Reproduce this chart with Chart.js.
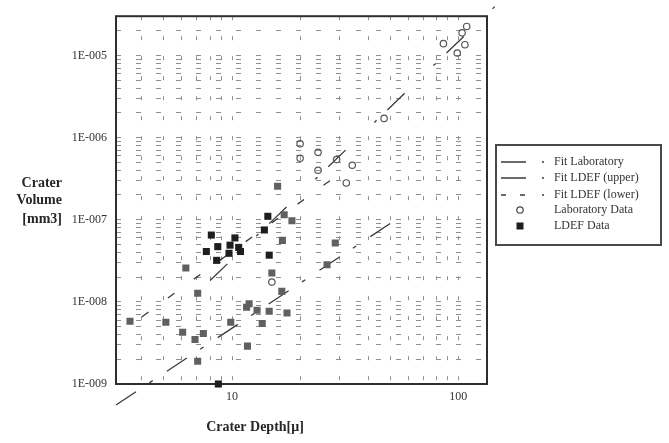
<!DOCTYPE html>
<html>
<head>
<meta charset="UTF-8">
<title>Crater Volume vs Crater Depth</title>
<script src="https://cdn.jsdelivr.net/npm/chart.js"></script>
<style>
  html, body { margin: 0; padding: 0; background: #fff; }
</style>
</head>
<body>
<canvas id="chart" width="669" height="443"></canvas>
<script>
  // axis ranges and tick labels
  var xMin = 3.07, xMax = 134;
  var yMin = 1e-9, yMax = 3e-5;
  var xGridTicks = [4, 5, 6, 7, 8, 9, 10, 20, 30, 40, 50, 60, 70, 80, 90, 100];
  var xLabelValues = [10, 100];
  var xTickLabels = ['10', '100'];
  var yDecades = [1e-9, 1e-8, 1e-7, 1e-6, 1e-5];
  var yMinorSteps = [1, 2, 3, 4, 5, 6, 7, 8, 9];
  var yTickLabels = ['1E-009', '1E-008', '1E-007', '1E-006', '1E-005'];

  // Laboratory data (open circles)
  var labDepth  = [109, 104, 86, 107, 99, 47, 20, 24, 20, 29, 34, 24, 32, 15];
  var labVolume = [2.25e-5, 1.88e-5, 1.39e-5, 1.35e-5, 1.07e-5, 1.71e-6, 8.4e-7, 6.6e-7,
                   5.6e-7, 5.4e-7, 4.6e-7, 4.0e-7, 2.8e-7, 1.74e-8];

  // LDEF data, dark squares
  var ldefDarkDepth  = [14.4, 13.9, 8.1, 10.3, 8.65, 9.8, 10.7, 7.7, 9.7, 10.9, 8.55, 14.6, 8.7];
  var ldefDarkVolume = [1.10e-7, 7.5e-8, 6.5e-8, 6.0e-8, 4.7e-8, 4.9e-8, 4.6e-8, 4.1e-8,
                        3.9e-8, 4.1e-8, 3.2e-8, 3.7e-8, 1.0e-9];

  // LDEF data, grey squares
  var ldefGreyDepth  = [15.9, 17.0, 18.4, 16.7, 28.6, 6.25, 26.3, 15.0, 7.05, 16.6, 11.9, 11.6,
                        12.9, 14.6, 17.5, 3.54, 5.1, 9.87, 13.6, 6.05, 7.47, 6.86, 11.7, 7.05];
  var ldefGreyVolume = [2.56e-7, 1.15e-7, 9.7e-8, 5.6e-8, 5.2e-8, 2.58e-8, 2.83e-8, 2.25e-8,
                        1.27e-8, 1.34e-8, 9.5e-9, 8.6e-9, 7.9e-9, 7.7e-9, 7.3e-9, 5.8e-9,
                        5.65e-9, 5.65e-9, 5.45e-9, 4.26e-9, 4.12e-9, 3.48e-9, 2.89e-9, 1.89e-9];

  // fit lines (end points)
  var labFitDepth    = [8, 200];
  var labFitVolume   = [1.82e-8, 9.2e-5];
  var upperFitDepth  = [4, 30];
  var upperFitVolume = [6.6e-9, 3.66e-7];
  var lowerFitDepth  = [3.07, 50];
  var lowerFitVolume = [5.56e-10, 8.97e-8];

  var legendLabels = ['Fit Laboratory', 'Fit LDEF (upper)', 'Fit LDEF (lower)', 'Laboratory Data', 'LDEF Data'];

  function pts(xs, ys) {
    return xs.map(function (x, i) { return { x: x, y: ys[i] }; });
  }

  // grid lines at every log step inside the range
  var yGridTicks = [];
  yDecades.forEach(function (d) {
    yMinorSteps.forEach(function (m) {
      if (d * m <= yMax * 1.0001) yGridTicks.push(d * m);
    });
  });

  var serif = 'Liberation Serif, Times New Roman, serif';
  var lineColor = '#3a3a3a';

  var framePlugin = {
    id: 'frame',
    beforeDatasetsDraw: function (chart) {
      var a = chart.chartArea, ctx = chart.ctx;
      ctx.save();
      ctx.strokeStyle = '#2e2e2e';
      ctx.lineWidth = 2;
      ctx.strokeRect(a.left, a.top, a.right - a.left, a.bottom - a.top);
      ctx.restore();
    },
    afterDraw: function (chart) {
      var ctx = chart.ctx;
      ctx.save();
      ctx.fillStyle = '#262626';
      ctx.font = 'bold 14px ' + serif;
      ctx.textAlign = 'right';
      ctx.textBaseline = 'middle';
      ctx.fillText('Crater', 62, 183);
      ctx.fillText('Volume', 62, 200);
      ctx.fillText('[mm3]', 62, 219);
      ctx.textAlign = 'center';
      ctx.fillText('Crater Depth[\u03bc]', 255, 427);

      // legend
      ctx.strokeStyle = '#4a4a4a';
      ctx.lineWidth = 2;
      ctx.strokeRect(496, 145, 165, 100);
      var rows = [162, 178, 195, 210, 226];
      var dashes = [[25, 16, 2, 100], [25, 16, 2, 100], [5, 14, 5, 17, 2, 100]];
      ctx.strokeStyle = lineColor;
      ctx.lineWidth = 1.3;
      for (var i = 0; i < 3; i++) {
        ctx.setLineDash(dashes[i]);
        ctx.beginPath();
        ctx.moveTo(501, rows[i]);
        ctx.lineTo(546, rows[i]);
        ctx.stroke();
      }
      ctx.setLineDash([]);
      ctx.strokeStyle = '#444';
      ctx.lineWidth = 1.2;
      ctx.beginPath();
      ctx.arc(520, rows[3], 3.2, 0, Math.PI * 2);
      ctx.stroke();
      ctx.fillStyle = '#1e1e1e';
      ctx.fillRect(516.5, rows[4] - 3.5, 7, 7);
      ctx.fillStyle = '#333';
      ctx.font = '12px ' + serif;
      ctx.textAlign = 'left';
      legendLabels.forEach(function (t, k) { ctx.fillText(t, 554, rows[k]); });
      ctx.restore();
    }
  };

  new Chart(document.getElementById('chart'), {
    type: 'scatter',
    data: {
      datasets: [
        { label: 'Laboratory Data', data: pts(labDepth, labVolume), pointStyle: 'circle',
          pointRadius: 3.2, borderWidth: 1.2, borderColor: '#555', backgroundColor: 'rgba(255,255,255,0)' },
        { label: 'LDEF Data', data: pts(ldefDarkDepth, ldefDarkVolume), pointStyle: 'rect',
          pointRadius: 5, borderWidth: 0, backgroundColor: '#1e1e1e', clip: false },
        { label: 'LDEF Data (grey)', data: pts(ldefGreyDepth, ldefGreyVolume), pointStyle: 'rect',
          pointRadius: 5, borderWidth: 0, backgroundColor: '#606060' },
        { label: 'Fit Laboratory', data: pts(labFitDepth, labFitVolume), showLine: true, pointRadius: 0,
          borderColor: lineColor, borderWidth: 1.3, borderDash: [24, 40, 3, 15], clip: false },
        { label: 'Fit LDEF (upper)', data: pts(upperFitDepth, upperFitVolume), showLine: true, pointRadius: 0,
          borderColor: lineColor, borderWidth: 1.3, borderDash: [8, 24], clip: false },
        { label: 'Fit LDEF (lower)', data: pts(lowerFitDepth, lowerFitVolume), showLine: true, pointRadius: 0,
          borderColor: lineColor, borderWidth: 1.3, borderDash: [24, 16, 4, 17], clip: false }
      ]
    },
    options: {
      responsive: false,
      animation: false,
      events: [],
      layout: { padding: { left: 0, right: 182, top: 14, bottom: 0 } },
      plugins: { legend: { display: false }, tooltip: { enabled: false } },
      scales: {
        x: {
          type: 'logarithmic', min: xMin, max: xMax,
          afterBuildTicks: function (s) { s.ticks = xGridTicks.map(function (v) { return { value: v }; }); },
          afterFit: function (s) { s.height = 59; },
          grid: { color: '#8f8f8f', lineWidth: 1, drawTicks: false },
          border: { display: false, dash: [4, 16] },
          ticks: {
            autoSkip: false, maxRotation: 0, padding: 6, color: '#333',
            font: { family: serif, size: 12 },
            callback: function (v) {
              var i = xLabelValues.indexOf(v);
              return i >= 0 ? xTickLabels[i] : '';
            }
          }
        },
        y: {
          type: 'logarithmic', min: yMin, max: yMax,
          afterBuildTicks: function (s) { s.ticks = yGridTicks.map(function (v) { return { value: v }; }); },
          afterFit: function (s) { s.width = 116; },
          grid: { color: '#8f8f8f', lineWidth: 1, drawTicks: false },
          border: { display: false, dash: [5, 15] },
          ticks: {
            autoSkip: false, padding: 9, color: '#333',
            font: { family: serif, size: 12 },
            callback: function (v) {
              var i = yDecades.indexOf(v);
              return i >= 0 ? yTickLabels[i] : '';
            }
          }
        }
      }
    },
    plugins: [framePlugin]
  });
</script>
</body>
</html>
